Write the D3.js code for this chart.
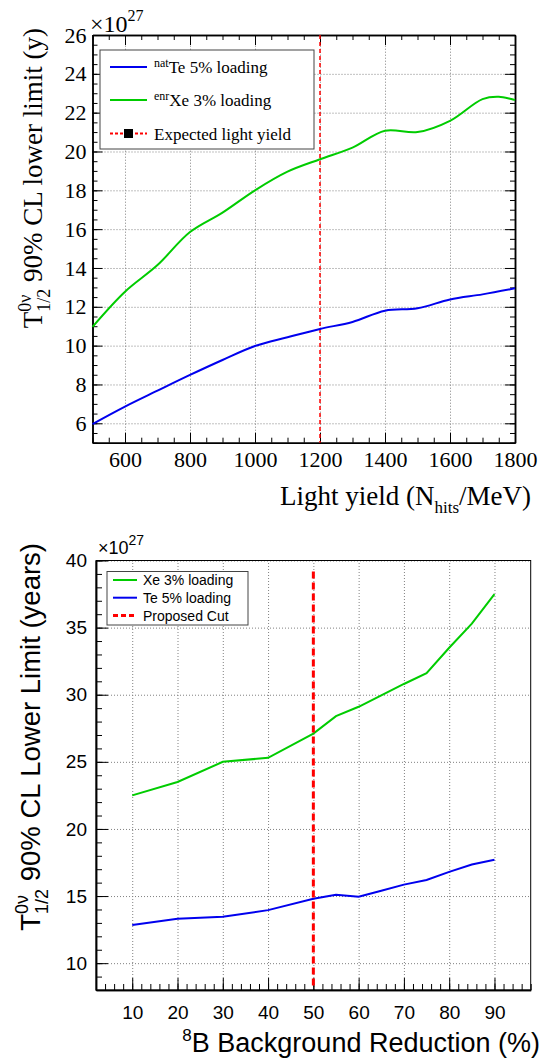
<!DOCTYPE html>
<html>
<head>
<meta charset="utf-8">
<script src="https://d3js.org/d3.v7.min.js"></script>
<style>
  body { margin: 0; background: #fff; }
  .grid line { stroke: #808080; stroke-dasharray: 1,2; }
  .grid path { display: none; }
</style>
</head>
<body>
<div id="viz"></div>
<script>

// ---- top panel: half-life limit vs light yield ----
var lightYield = [500, 600, 700, 800, 900, 1000, 1100, 1200, 1300, 1400, 1500, 1600, 1700, 1800];
var teVsYield = [5.96, 6.86, 7.68, 8.49, 9.26, 9.98, 10.43, 10.86, 11.22, 11.8, 11.92, 12.38, 12.64, 12.95];
var xeYieldPts = [500, 600, 700, 800, 900, 1000, 1100, 1200, 1300, 1400, 1500, 1600, 1700, 1750, 1800];
var xeVsYield = [10.97, 12.78, 14.15, 15.85, 16.85, 18.0, 18.96, 19.6, 20.2, 21.07, 21.0, 21.58, 22.7, 22.82, 22.65];
var expectedYield = 1200;
var topXTicks = [600, 800, 1000, 1200, 1400, 1600, 1800];
var topYTicks = [6, 8, 10, 12, 14, 16, 18, 20, 22, 24, 26];

// ---- bottom panel: half-life limit vs 8B background reduction ----
var reduction = [10, 20, 30, 40, 50, 55, 60, 65, 70, 75, 80, 85, 90];
var xeVsCut = [22.5, 23.5, 25.0, 25.3, 27.1, 28.4, 29.1, 29.95, 30.8, 31.6, 33.5, 35.3, 37.5];
var teVsCut = [12.85, 13.3, 13.45, 13.95, 14.8, 15.1, 14.95, 15.4, 15.85, 16.2, 16.8, 17.35, 17.7];
var proposedCut = 50;
var botXTicks = [10, 20, 30, 40, 50, 60, 70, 80, 90];
var botYTicks = [10, 15, 20, 25, 30, 35, 40];

var blue = "#0000ee", green = "#00cc00", red = "#ff0000";
var serif = "Liberation Serif", sans = "Liberation Sans";

var svg = d3.select("#viz").append("svg")
  .attr("width", 542).attr("height", 1060);

// little helper: axis styled like ROOT (ticks inside the frame)
function styleAxis(g, font, size) {
  g.attr("font-family", font).attr("font-size", size);
  g.selectAll(".domain").attr("stroke", "#000").attr("stroke-width", 1.5);
  g.selectAll(".tick line").attr("stroke", "#000");
  g.selectAll("text").attr("fill", "#000")
    .attr("font-family", font).attr("font-size", size);
}
function range(a, b, s) { return d3.range(a, b + s / 2, s); }

// =================== TOP ===================
var x1 = d3.scaleLinear().domain([500, 1800]).range([92.5, 515]);
var y1 = d3.scaleLinear().domain([5, 26]).range([442.7, 35]);
var t = 35, b = 442.7, l = 92.5, r = 515;

svg.append("g").attr("class", "grid").attr("transform", "translate(0," + b + ")")
  .call(d3.axisBottom(x1).tickValues(topXTicks).tickSize(-(b - t)).tickFormat(""));
svg.append("g").attr("class", "grid").attr("transform", "translate(" + l + ",0)")
  .call(d3.axisLeft(y1).tickValues(topYTicks).tickSize(-(r - l)).tickFormat(""));

var topMinorX = range(500, 1800, 50), topMinorY = range(5, 26, 0.5);

svg.append("g").attr("transform", "translate(0," + b + ")")
  .call(d3.axisBottom(x1).tickValues(topMinorX).tickSize(-5).tickSizeOuter(0).tickFormat(""))
  .call(styleAxis, serif, 22);
svg.append("g").attr("transform", "translate(0," + b + ")")
  .call(d3.axisBottom(x1).tickValues(topXTicks).tickSize(-10).tickSizeOuter(0).tickPadding(9).tickFormat(d3.format("d")))
  .call(styleAxis, serif, 22);
svg.append("g").attr("transform", "translate(0," + t + ")")
  .call(d3.axisTop(x1).tickValues(topMinorX).tickSize(-5).tickSizeOuter(0).tickFormat(""))
  .call(styleAxis, serif, 22);
svg.append("g").attr("transform", "translate(0," + t + ")")
  .call(d3.axisTop(x1).tickValues(topXTicks).tickSize(-10).tickSizeOuter(0).tickFormat(""))
  .call(styleAxis, serif, 22);
svg.append("g").attr("transform", "translate(" + l + ",0)")
  .call(d3.axisLeft(y1).tickValues(topMinorY).tickSize(-5).tickSizeOuter(0).tickFormat(""))
  .call(styleAxis, serif, 22);
svg.append("g").attr("transform", "translate(" + l + ",0)")
  .call(d3.axisLeft(y1).tickValues(topYTicks).tickSize(-10).tickSizeOuter(0).tickPadding(6))
  .call(styleAxis, serif, 22);
svg.append("g").attr("transform", "translate(" + r + ",0)")
  .call(d3.axisRight(y1).tickValues(topMinorY).tickSize(-5).tickSizeOuter(0).tickFormat(""))
  .call(styleAxis, serif, 22);
svg.append("g").attr("transform", "translate(" + r + ",0)")
  .call(d3.axisRight(y1).tickValues(topYTicks).tickSize(-10).tickSizeOuter(0).tickFormat(""))
  .call(styleAxis, serif, 22);

// expected light yield
svg.append("line")
  .attr("x1", x1(expectedYield)).attr("x2", x1(expectedYield))
  .attr("y1", t).attr("y2", b)
  .attr("stroke", red).attr("stroke-width", 1.5).attr("stroke-dasharray", "4,3");

var smooth = d3.line().curve(d3.curveCatmullRom.alpha(0.5));
svg.append("path")
  .attr("d", smooth(lightYield.map(function (d, i) { return [x1(d), y1(teVsYield[i])]; })))
  .attr("fill", "none").attr("stroke", blue).attr("stroke-width", 2);
svg.append("path")
  .attr("d", smooth(xeYieldPts.map(function (d, i) { return [x1(d), y1(xeVsYield[i])]; })))
  .attr("fill", "none").attr("stroke", green).attr("stroke-width", 2);

// exponent
var e1 = svg.append("text").attr("x", 90).attr("y", 32)
  .attr("font-family", serif).attr("font-size", 24);
e1.append("tspan").text("\u00d710");
e1.append("tspan").attr("dy", -11).attr("font-size", 16).text("27");

// legend
var lg1 = svg.append("g").attr("font-family", serif).attr("font-size", 17);
lg1.append("rect").attr("x", 100).attr("y", 50).attr("width", 214).attr("height", 99)
  .attr("fill", "#fff").attr("stroke", "#444").attr("stroke-width", 1);
var topLegend = [
  { pre: "nat", name: "Te 5% loading", color: blue, dash: null, cy: 67 },
  { pre: "enr", name: "Xe 3% loading", color: green, dash: null, cy: 100 },
  { pre: "", name: "Expected light yield", color: red, dash: "3,2", cy: 133.5 }
];
topLegend.forEach(function (e, i) {
  lg1.append("line").attr("x1", 110).attr("x2", 147).attr("y1", e.cy).attr("y2", e.cy)
    .attr("stroke", e.color).attr("stroke-width", 2).attr("stroke-dasharray", e.dash);
  if (i == 2) {
    lg1.append("rect").attr("x", 124).attr("y", e.cy - 4.5).attr("width", 9).attr("height", 9).attr("fill", "#000");
  }
  var tx = lg1.append("text").attr("x", 154).attr("y", e.cy + 6);
  if (e.pre) {
    tx.append("tspan").attr("font-size", 12).attr("dy", -6).text(e.pre);
    tx.append("tspan").attr("dy", 6).text(e.name);
  } else {
    tx.text(e.name);
  }
});

// axis titles
var xt1 = svg.append("text").attr("x", 531).attr("y", 505).attr("text-anchor", "end")
  .attr("font-family", serif).attr("font-size", 27);
xt1.append("tspan").text("Light yield (N");
xt1.append("tspan").attr("font-size", 17).attr("dy", 8).text("hits");
xt1.append("tspan").attr("dy", -8).text("/MeV)");

function halfLifeTitle(font, size, small, rest, x, y) {
  var tt = svg.append("text").attr("transform", "translate(" + x + "," + y + ") rotate(-90)")
    .attr("text-anchor", "end").attr("font-family", font).attr("font-size", size);
  tt.append("tspan").text("T");
  var sup = tt.append("tspan").attr("font-size", small).attr("dy", -size * 0.42).text("0\u03bd");
  var w = sup.node().getComputedTextLength();
  tt.append("tspan").attr("font-size", small).attr("dx", -w).attr("dy", size * 0.72).text("1/2");
  tt.append("tspan").attr("dy", -size * 0.30).text(rest);
}
halfLifeTitle(serif, 27, 18, " 90% CL lower limit (y)", 42, 28);

// =================== BOTTOM ===================
var x2 = d3.scaleLinear().domain([2, 98]).range([96, 530.7]);
var y2 = d3.scaleLinear().domain([8, 40]).range([990, 560.5]);
var t2 = 560.5, b2 = 990, l2 = 96, r2 = 530.7;

svg.append("g").attr("class", "grid").attr("transform", "translate(0," + b2 + ")")
  .call(d3.axisBottom(x2).tickValues(botXTicks).tickSize(-(b2 - t2)).tickFormat(""));
svg.append("g").attr("class", "grid").attr("transform", "translate(" + l2 + ",0)")
  .call(d3.axisLeft(y2).tickValues(botYTicks).tickSize(-(r2 - l2)).tickFormat(""));

svg.append("rect").attr("x", l2).attr("y", t2).attr("width", r2 - l2).attr("height", b2 - t2)
  .attr("fill", "none").attr("stroke", "#000").attr("stroke-width", 1);

svg.append("g").attr("transform", "translate(0," + b2 + ")")
  .call(d3.axisBottom(x2).tickValues(range(2, 98, 2)).tickSize(-6).tickSizeOuter(0).tickFormat(""))
  .call(styleAxis, sans, 19);
svg.append("g").attr("transform", "translate(0," + b2 + ")")
  .call(d3.axisBottom(x2).tickValues(botXTicks).tickSize(-12).tickSizeOuter(0).tickPadding(16))
  .call(styleAxis, sans, 19);
svg.append("g").attr("transform", "translate(" + l2 + ",0)")
  .call(d3.axisLeft(y2).tickValues(range(8, 40, 1)).tickSize(-6).tickSizeOuter(0).tickFormat(""))
  .call(styleAxis, sans, 19);
svg.append("g").attr("transform", "translate(" + l2 + ",0)")
  .call(d3.axisLeft(y2).tickValues(botYTicks).tickSize(-12).tickSizeOuter(0).tickPadding(9))
  .call(styleAxis, sans, 19);

var straight = d3.line();
svg.append("path")
  .attr("d", straight(reduction.map(function (d, i) { return [x2(d), y2(xeVsCut[i])]; })))
  .attr("fill", "none").attr("stroke", green).attr("stroke-width", 2);
svg.append("path")
  .attr("d", straight(reduction.map(function (d, i) { return [x2(d), y2(teVsCut[i])]; })))
  .attr("fill", "none").attr("stroke", blue).attr("stroke-width", 2);

svg.append("line")
  .attr("x1", x2(proposedCut)).attr("x2", x2(proposedCut))
  .attr("y1", 571.5).attr("y2", 986)
  .attr("stroke", red).attr("stroke-width", 3).attr("stroke-dasharray", "7,4");

var e2 = svg.append("text").attr("x", 98).attr("y", 554)
  .attr("font-family", sans).attr("font-size", 18);
e2.append("tspan").text("\u00d710");
e2.append("tspan").attr("dy", -9).attr("font-size", 14).text("27");

var lg2 = svg.append("g").attr("font-family", sans).attr("font-size", 14);
lg2.append("rect").attr("x", 107).attr("y", 571.5).attr("width", 141).attr("height", 53.5)
  .attr("fill", "#fff").attr("stroke", "#444").attr("stroke-width", 1);
var botLegend = [
  { name: "Xe 3% loading", color: green, dash: null, w: 2, cy: 580 },
  { name: "Te 5% loading", color: blue, dash: null, w: 2, cy: 597.7 },
  { name: "Proposed Cut", color: red, dash: "5,3", w: 3, cy: 615.5 }
];
botLegend.forEach(function (e) {
  lg2.append("line").attr("x1", 113).attr("x2", 137).attr("y1", e.cy).attr("y2", e.cy)
    .attr("stroke", e.color).attr("stroke-width", e.w).attr("stroke-dasharray", e.dash);
  lg2.append("text").attr("x", 143).attr("y", e.cy + 5).text(e.name);
});

var xt2 = svg.append("text").attr("x", 540).attr("y", 1052).attr("text-anchor", "end")
  .attr("font-family", sans).attr("font-size", 27);
xt2.append("tspan").attr("font-size", 17).attr("dy", -11).text("8");
xt2.append("tspan").attr("dy", 11).text("B Background Reduction (%)");

halfLifeTitle(sans, 27.5, 18, " 90% CL Lower Limit (years)", 40, 543);

</script>
</body>
</html>
